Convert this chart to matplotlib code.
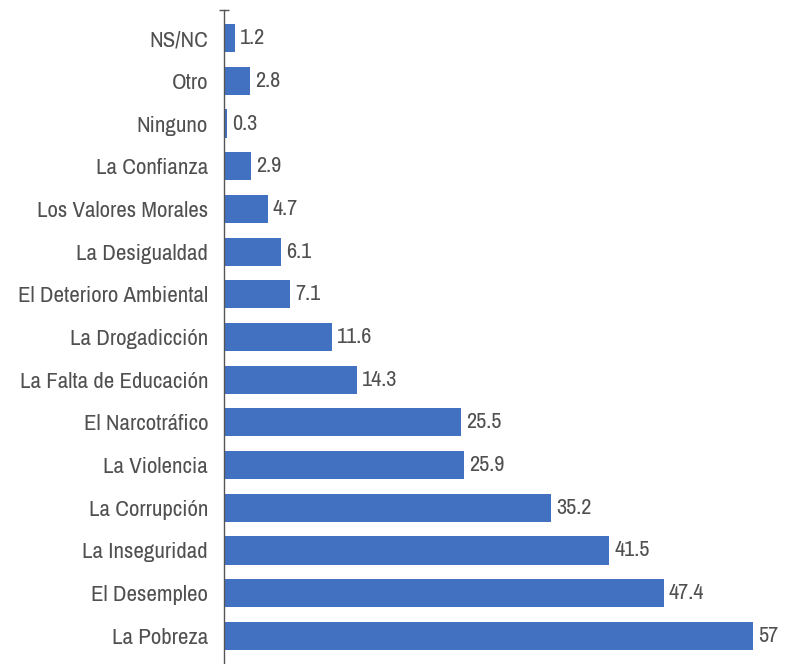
import matplotlib.pyplot as plt
from matplotlib import font_manager

categorias = ['La Pobreza', 'El Desempleo', 'La Inseguridad', 'La Corrupción',
              'La Violencia', 'El Narcotráfico', 'La Falta de Educación',
              'La Drogadicción', 'El Deterioro Ambiental', 'La Desigualdad',
              'Los Valores Morales', 'La Confianza', 'Ninguno', 'Otro', 'NS/NC']
valores = [57, 47.4, 41.5, 35.2, 25.9, 25.5, 14.3, 11.6, 7.1, 6.1, 4.7, 2.9, 0.3, 2.8, 1.2]
etiquetas = ['57', '47.4', '41.5', '35.2', '25.9', '25.5', '14.3', '11.6', '7.1', '6.1',
             '4.7', '2.9', '0.3', '2.8', '1.2']

# fuente estrecha si existe
condensadas = sorted({f.name for f in font_manager.fontManager.ttflist
                      if 'Narrow' in f.name or 'Condensed' in f.name})
fuente = condensadas[0] if condensadas else 'DejaVu Sans'
plt.rcParams['font.family'] = [fuente, 'DejaVu Sans']
plt.rcParams['font.stretch'] = 'condensed'

fig = plt.figure(figsize=(7.91, 6.64), dpi=100)
ax = fig.add_axes([224 / 791, 0.0, 1 - 224 / 791, 1 - 10 / 664])

y = list(range(len(categorias)))
ax.barh(y, valores, height=0.66, color='#4371C2')

for yi, v, t in zip(y, valores, etiquetas):
    ax.text(v + 0.55, yi, t, va='center', ha='left', fontsize=16, color='#505050')

ax.set_xlim(0, 61.1)
ax.set_ylim(-0.66, len(categorias) - 1 + 0.66)
ax.set_yticks(y)
ax.set_yticklabels(categorias, fontsize=16.5, color='#505050')
ax.tick_params(axis='y', length=0, pad=11.5)
ax.set_yticks([len(categorias) - 1 + 0.66], minor=True)
ax.tick_params(axis='y', which='minor', length=7, direction='inout', color='#555555', width=1)
ax.set_xticks([])

for s in ['top', 'right', 'bottom']:
    ax.spines[s].set_visible(False)
ax.spines['left'].set_color('#555555')
ax.spines['left'].set_linewidth(1)

plt.savefig('out.png', dpi=100)
